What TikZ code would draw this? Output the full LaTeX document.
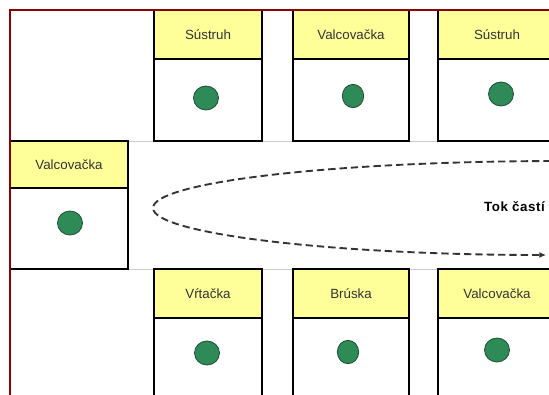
\documentclass[tikz,border=0pt]{standalone}
\usepackage{fontspec}
\setmainfont{Liberation Sans}
\usetikzlibrary{arrows.meta,shapes.geometric}
\definecolor{headyellow}{HTML}{FFFF99}
\definecolor{dotgreen}{HTML}{2E8B57}
\definecolor{dotline}{HTML}{1E4D32}
\definecolor{wallred}{HTML}{8B0000}
\definecolor{labelgray}{HTML}{333333}
\begin{document}
\begin{tikzpicture}[x=0.75pt,y=-0.75pt,
    head/.style={draw,line width=1.1pt,fill=headyellow,inner sep=0pt,outer sep=0pt,
      minimum height=36.75pt,anchor=north west,text=labelgray,
      font=\fontsize{10}{12}\selectfont},
    body/.style={draw,line width=1.1pt,fill=white,inner sep=0pt,outer sep=0pt,
      minimum height=61.5pt,anchor=north},
    dot/.style={ellipse,draw=dotline,line width=0.6pt,fill=dotgreen,inner sep=0pt,
      minimum width=18.75pt,minimum height=18pt},
    slim/.style={dot,minimum width=16pt,minimum height=17.5pt},
    aisle/.style={draw=black!20,line width=0.75pt},
    wall/.style={draw=wallred,line width=1.5pt},
    flow/.style={draw=black!80,line width=1.4pt,dash pattern=on 5.5pt off 3pt,
      -{Latex[length=5pt,width=4.5pt]}}]
  \useasboundingbox (0,0) rectangle (549,394);
  \clip (0,0) rectangle (549,394);
  \fill[white] (0,0) rectangle (549,394);
  \draw[aisle] (10,141) -- (560,141);
  \draw[aisle] (10,269) -- (560,269);
  \node[head,minimum width=81pt] (sus1) at (154,10) {Sústruh};
  \node[body,minimum width=81pt] (sus1b) at (sus1.south) {};
  \node[dot] (sus1d) at (206,98) {};
  \node[head,minimum width=87pt] (val1) at (293,10) {Valcovačka};
  \node[body,minimum width=87pt] (val1b) at (val1.south) {};
  \node[slim] (val1d) at (353,96) {};
  \node[head,minimum width=88.5pt] (sus2) at (438,10) {Sústruh};
  \node[body,minimum width=88.5pt] (sus2b) at (sus2.south) {};
  \node[dot] (sus2d) at (501,94) {};
  \node[head,minimum width=88.5pt,minimum height=35.25pt] (val2) at (10,141) {Valcovačka};
  \node[body,minimum width=88.5pt,minimum height=60.75pt] (val2b) at (val2.south) {};
  \node[dot] (val2d) at (70,223) {};
  \node[head,minimum width=81pt] (vrt) at (154,269) {Vŕtačka};
  \node[body,minimum width=81pt] (vrtb) at (vrt.south) {};
  \node[dot] (vrtd) at (207,353) {};
  \node[head,minimum width=87pt] (bru) at (293,269) {Brúska};
  \node[body,minimum width=87pt] (brub) at (bru.south) {};
  \node[slim] (brud) at (348,352) {};
  \node[head,minimum width=88.5pt] (val3) at (438,269) {Valcovačka};
  \node[body,minimum width=88.5pt] (val3b) at (val3.south) {};
  \node[dot] (val3d) at (497,350) {};
  \draw[wall] (10,400) -- (10,10) -- (560,10);
  \coordinate (flowin) at (562,161);
  \coordinate (bend) at (153,208);
  \coordinate (flowout) at (546,255);
  \draw[flow] (flowin) .. controls (335,161) and (153,182) .. (bend)
    .. controls (153,234) and (335,255) .. (flowout);
  \node[anchor=east,inner sep=0pt,font=\bfseries\fontsize{10}{12}\selectfont\addfontfeature{LetterSpace=4}] (tok) at (545,207) {Tok častí};
\end{tikzpicture}
\end{document}
